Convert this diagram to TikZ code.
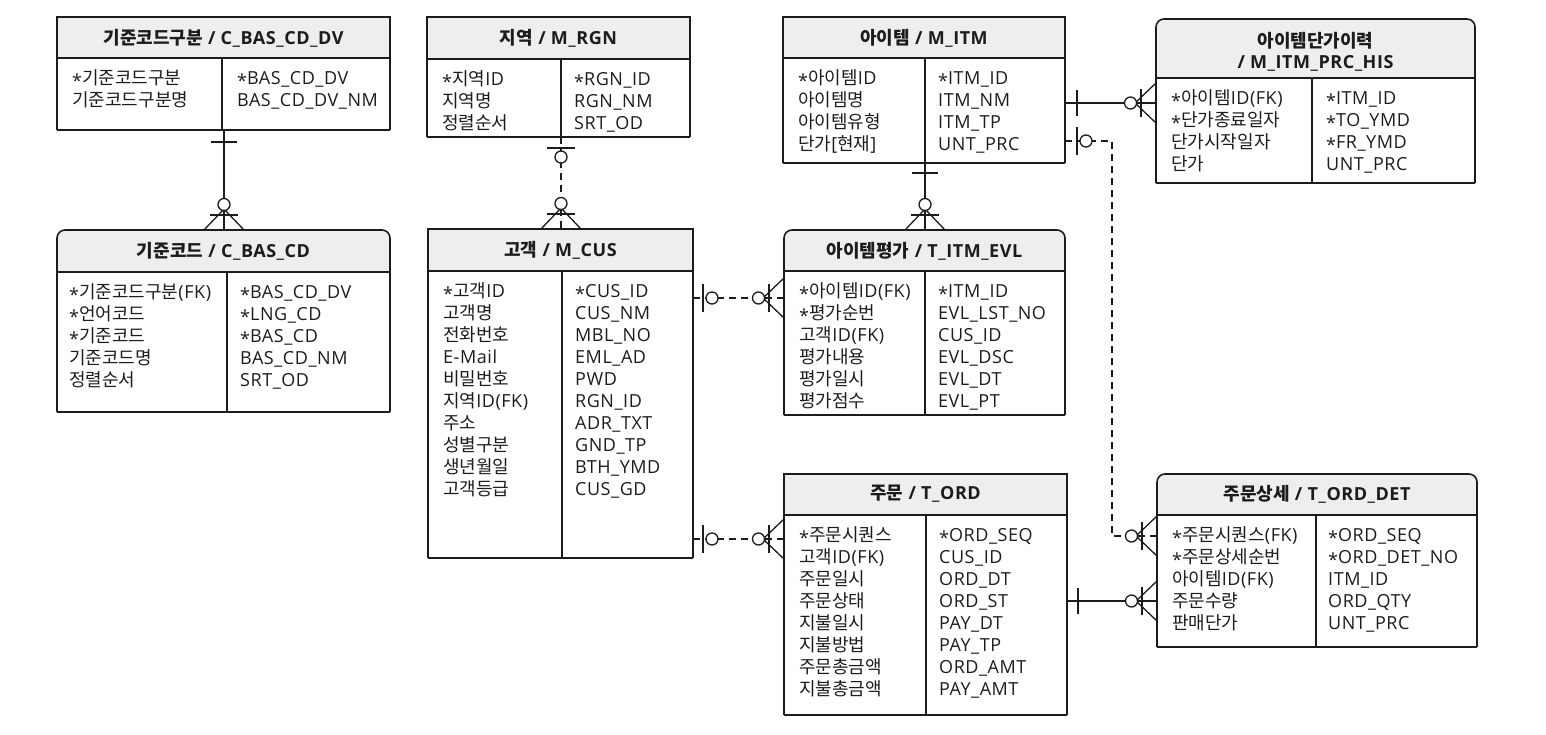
\documentclass[tikz,border=0pt]{standalone}
\usepackage{fontspec}
\setmainfont{Open Sans}[LetterSpace=3]
\newfontfamily\krf{Noto Sans CJK KR}
\newcommand\kr[1]{{\krf #1}}
\newcommand\PKs{\raisebox{-0.35ex}{*}}
\definecolor{ink}{HTML}{1C1C1C}
\definecolor{hdrfill}{HTML}{EEEEEE}
\newcommand\ertbl[8]{%
  \node[tbl, minimum width={#4-#2}, minimum height={#5-#3}] (#1) at (#2,#3) {};
  \fill[hdrfill,#8] (#2,#6) -- (#2,#3) -- (#4,#3) -- (#4,#6);
  \draw[bline,#8] (#2,#5) -- (#2,#3) -- (#4,#3) -- (#4,#5);
  \draw[bline,line cap=square] (#2,#5) -- (#4,#5);
  \draw[bline] (#2,#6) -- (#4,#6);
  \draw[bline] (#7,#6) -- (#7,#5);
}
\newcommand\rowsat[4]{%
  \foreach \t [count=\i] in {#4} {\node[rowtxt] (#1\i) at (#2,{#3+(\i-1)*22}) {\t};}%
}
\begin{document}
\begin{tikzpicture}[x=1pt,y=-1pt,
  tbl/.style={draw=none, inner sep=0pt, outer sep=0pt, anchor=north west},
  ttl/.style={font=\bfseries\fontsize{18}{21}\selectfont, align=center, inner sep=0pt, text=ink},
  rowtxt/.style={anchor=base west, inner sep=0pt, font=\fontsize{18}{20}\selectfont, text=ink},
  bline/.style={draw=ink, line width=1.6pt},
  conn/.style={draw=ink, line width=1.3pt},
  dconn/.style={conn, dash pattern=on 7pt off 5pt},
  sym/.style={draw=ink, line width=1.3pt, solid},
  pics/onebar/.style={code={\draw[sym] (#1,-13) -- (#1,13);}},
  pics/onebar/.default=12,
  pics/zeroone/.style={code={\draw[sym] (#1,-14) -- (#1,14);
      \draw[sym, fill=white] ({#1+9},0) circle[radius=6];}},
  pics/zeroone/.default=11,
  pics/zeromany/.style={code={\draw[sym] (0,-20) -- (21,0) -- (0,20);
      \draw[sym] (15,-14) -- (15,14);
      \draw[sym, fill=white] (25.5,0) circle[radius=6];}},
]
\useasboundingbox (0,0) rectangle (1546,734);

% ---------- tables ----------
\ertbl{cdv}{57}{17}{390}{130}{58}{222}{sharp corners}
\node[ttl] (cdvT) at (223.5,38) {\kr{기준코드구분} / C\_BAS\_CD\_DV};
\rowsat{cdvL}{72}{84}{{\PKs\kr{기준코드구분}},{\kr{기준코드구분명}}}
\rowsat{cdvR}{237}{84}{{\PKs BAS\_CD\_DV},{BAS\_CD\_DV\_NM}}

\ertbl{cd}{57}{230}{390}{412}{272}{227}{rounded corners=8pt}
\node[ttl] (cdT) at (223.5,251) {\kr{기준코드} / C\_BAS\_CD};
\rowsat{cdL}{69}{298}{{\PKs\kr{기준코드구분}(FK)},{\PKs\kr{언어코드}},{\PKs\kr{기준코드}},{\kr{기준코드명}},{\kr{정렬순서}}}
\rowsat{cdR}{240}{298}{{\PKs BAS\_CD\_DV},{\PKs LNG\_CD},{\PKs BAS\_CD},{BAS\_CD\_NM},{SRT\_OD}}

\ertbl{rgn}{427}{17}{690}{137}{59}{561}{sharp corners}
\node[ttl] (rgnT) at (558.5,38) {\kr{지역} / M\_RGN};
\rowsat{rgnL}{442}{85}{{\PKs\kr{지역}ID},{\kr{지역명}},{\kr{정렬순서}}}
\rowsat{rgnR}{574}{85}{{\PKs RGN\_ID},{RGN\_NM},{SRT\_OD}}

\ertbl{cus}{428}{229}{693}{558}{271}{562}{sharp corners}
\node[ttl] (cusT) at (560.5,250) {\kr{고객} / M\_CUS};
\rowsat{cusL}{443}{297}{{\PKs\kr{고객}ID},{\kr{고객명}},{\kr{전화번호}},{E-Mail},{\kr{비밀번호}},{\kr{지역}ID(FK)},{\kr{주소}},{\kr{성별구분}},{\kr{생년월일}},{\kr{고객등급}}}
\rowsat{cusR}{575}{297}{{\PKs CUS\_ID},{CUS\_NM},{MBL\_NO},{EML\_AD},{PWD},{RGN\_ID},{ADR\_TXT},{GND\_TP},{BTH\_YMD},{CUS\_GD}}

\ertbl{itm}{783}{17}{1065}{163}{58}{925}{sharp corners}
\node[ttl] (itmT) at (924,38) {\kr{아이템} / M\_ITM};
\rowsat{itmL}{798}{84}{{\PKs\kr{아이템}ID},{\kr{아이템명}},{\kr{아이템유형}},{\kr{단가}[\kr{현재}]}}
\rowsat{itmR}{938}{84}{{\PKs ITM\_ID},{ITM\_NM},{ITM\_TP},{UNT\_PRC}}

\ertbl{his}{1156}{19}{1475}{183}{78}{1312}{rounded corners=8pt}
\node[ttl] (hisT) at (1315.5,52) {\kr{아이템단가이력}\\/ M\_ITM\_PRC\_HIS};
\rowsat{hisL}{1171}{104}{{\PKs\kr{아이템}ID(FK)},{\PKs\kr{단가종료일자}},{\kr{단가시작일자}},{\kr{단가}}}
\rowsat{hisR}{1326}{104}{{\PKs ITM\_ID},{\PKs TO\_YMD},{\PKs FR\_YMD},{UNT\_PRC}}

\ertbl{evl}{784}{230}{1065}{415}{271}{925}{rounded corners=8pt}
\node[ttl] (evlT) at (924.5,251) {\kr{아이템평가} / T\_ITM\_EVL};
\rowsat{evlL}{799}{297}{{\PKs\kr{아이템}ID(FK)},{\PKs\kr{평가순번}},{\kr{고객}ID(FK)},{\kr{평가내용}},{\kr{평가일시}},{\kr{평가점수}}}
\rowsat{evlR}{938}{297}{{\PKs ITM\_ID},{EVL\_LST\_NO},{CUS\_ID},{EVL\_DSC},{EVL\_DT},{EVL\_PT}}

\ertbl{ord}{784}{474}{1067}{715}{515}{926}{sharp corners}
\node[ttl] (ordT) at (925.5,494) {\kr{주문} / T\_ORD};
\rowsat{ordL}{799}{541}{{\PKs\kr{주문시퀀스}},{\kr{고객}ID(FK)},{\kr{주문일시}},{\kr{주문상태}},{\kr{지불일시}},{\kr{지불방법}},{\kr{주문총금액}},{\kr{지불총금액}}}
\rowsat{ordR}{939}{541}{{\PKs ORD\_SEQ},{CUS\_ID},{ORD\_DT},{ORD\_ST},{PAY\_DT},{PAY\_TP},{ORD\_AMT},{PAY\_AMT}}

\ertbl{det}{1157}{474}{1477}{647}{515}{1316}{rounded corners=8pt}
\node[ttl] (detT) at (1317,494) {\kr{주문상세} / T\_ORD\_DET};
\rowsat{detL}{1172}{541}{{\PKs\kr{주문시퀀스}(FK)},{\PKs\kr{주문상세순번}},{\kr{아이템}ID(FK)},{\kr{주문수량}},{\kr{판매단가}}}
\rowsat{detR}{1328}{541}{{\PKs ORD\_SEQ},{\PKs ORD\_DET\_NO},{ITM\_ID},{ORD\_QTY},{UNT\_PRC}}

% ---------- connector levels ----------
\coordinate (xA) at (224,0);
\coordinate (xB) at (561,0);
\coordinate (xC) at (925,0);
\coordinate (xD) at (1112,0);
\coordinate (yA) at (0,103);
\coordinate (yB) at (0,141);
\coordinate (yC) at (0,298);
\coordinate (yD) at (0,539);
\coordinate (yE) at (0,601);
\coordinate (yF) at (0,536);
\coordinate (bend1) at (xD |- yB);
\coordinate (bend2) at (xD |- yF);

% ---------- connectors ----------
\draw[conn] (cdv.south -| xA) -- (cd.north -| xA);
\pic[rotate=-90] at (cdv.south -| xA) {onebar=12};
\pic[rotate=90] at (cd.north -| xA) {zeromany};

\draw[dconn] (rgn.south -| xB) -- (cus.north -| xB);
\pic[rotate=-90] at (rgn.south -| xB) {zeroone=11};
\pic[rotate=90] at (cus.north -| xB) {zeromany};

\draw[conn] (itm.south -| xC) -- (evl.north -| xC);
\pic[rotate=-90] at (itm.south -| xC) {onebar=10};
\pic[rotate=90] at (evl.north -| xC) {zeromany};

\draw[conn] (itm.east |- yA) -- (his.west |- yA);
\pic at (itm.east |- yA) {onebar=12};
\pic[rotate=180] at (his.west |- yA) {zeromany};

\draw[dconn] (itm.east |- yB) -- (bend1) -- (bend2) -- (det.west |- yF);
\pic at (itm.east |- yB) {zeroone=12};
\pic[rotate=180] at (det.west |- yF) {zeromany};

\draw[dconn] (cus.east |- yC) -- (evl.west |- yC);
\pic at (cus.east |- yC) {zeroone=10};
\pic[rotate=180] at (evl.west |- yC) {zeromany};

\draw[dconn] (cus.east |- yD) -- (ord.west |- yD);
\pic at (cus.east |- yD) {zeroone=10};
\pic[rotate=180] at (ord.west |- yD) {zeromany};

\draw[conn] (ord.east |- yE) -- (det.west |- yE);
\pic at (ord.east |- yE) {onebar=11};
\pic[rotate=180] at (det.west |- yE) {zeromany};
\end{tikzpicture}
\end{document}
